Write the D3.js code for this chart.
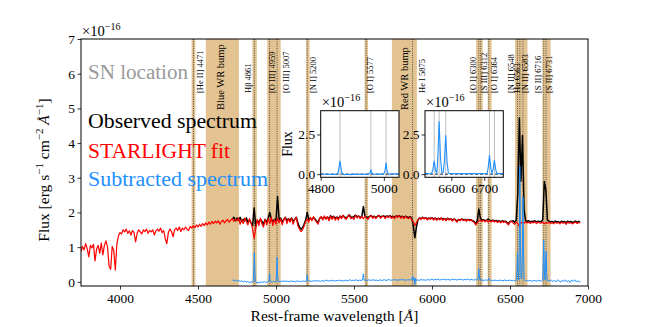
<!DOCTYPE html>
<html><head><meta charset="utf-8">
<script src="https://cdn.jsdelivr.net/npm/d3@7"></script>
<style>
body{margin:0;background:#fff;}
svg{display:block;}
text{font-family:"Liberation Serif","Times New Roman",serif;}
</style>
</head><body>
<svg id="c" width="654" height="327"></svg>
<script>
// ---------------- DATA ----------------
const waveStart = 3750, waveStep = 10;       // STARLIGHT fit sampling grid (Å)
const fitFlux = [
0.88,1.02,0.92,1.10,0.95,0.72,1.05,0.98,1.08,0.60,
0.95,1.05,0.82,1.12,0.78,1.05,1.18,1.00,0.45,0.36,
1.02,0.90,0.34,1.10,1.32,1.42,1.38,1.50,1.44,1.52,
1.40,1.47,1.35,1.48,1.42,1.15,1.40,1.50,1.44,1.38,
1.50,1.45,1.52,1.40,1.48,1.44,1.50,1.35,1.47,1.52,
1.46,1.55,1.42,1.48,1.25,1.10,1.42,1.52,1.45,1.30,
1.50,1.55,1.48,1.58,1.45,1.55,1.50,1.58,1.52,1.48,
1.60,1.55,1.62,1.56,1.64,1.58,1.66,1.60,1.68,1.62,
1.70,1.64,1.72,1.66,1.74,1.68,1.75,1.70,1.76,1.66,
1.74,1.78,1.70,1.76,1.80,1.72,1.78,1.82,1.74,1.80,
1.76,1.84,1.66,1.80,1.68,1.84,1.74,1.64,1.82,1.70,
1.52,1.25,1.55,1.80,1.62,1.84,1.66,1.58,1.80,1.64,
1.82,1.68,1.86,1.62,1.80,1.66,1.84,1.70,1.82,1.64,
1.80,1.86,1.68,1.82,1.72,1.84,1.66,1.80,1.86,1.62,
1.52,1.45,1.50,1.60,1.74,1.82,1.72,1.86,1.76,1.88,
1.78,1.72,1.66,1.84,1.88,1.78,1.90,1.80,1.88,1.76,
1.90,1.80,1.88,1.78,1.86,1.78,1.90,1.82,1.92,1.84,
1.80,1.88,1.92,1.82,1.86,1.80,1.92,1.84,1.90,1.82,
1.88,1.82,1.90,1.84,1.80,1.88,1.91,1.83,1.89,1.82,
1.88,1.92,1.83,1.88,1.90,1.82,1.89,1.85,1.91,1.83,
1.88,1.82,1.90,1.85,1.91,1.83,1.88,1.82,1.89,1.84,
1.82,1.87,1.80,1.74,1.62,1.70,1.80,1.84,1.80,1.86,
1.81,1.85,1.78,1.84,1.80,1.85,1.78,1.84,1.77,1.83,
1.79,1.84,1.77,1.82,1.76,1.83,1.78,1.82,1.75,1.81,
1.78,1.72,1.80,1.76,1.81,1.77,1.80,1.74,1.80,1.76,
1.79,1.74,1.72,1.64,1.70,1.76,1.78,1.74,1.78,1.73,
1.77,1.72,1.76,1.73,1.77,1.72,1.76,1.71,1.75,1.70,
1.75,1.71,1.74,1.69,1.64,1.73,1.74,1.70,1.66,1.72,
1.68,1.60,1.70,1.72,1.69,1.73,1.70,1.72,1.68,1.72,
1.70,1.73,1.68,1.72,1.70,1.69,1.72,1.67,1.71,1.69,
1.72,1.68,1.71,1.67,1.72,1.69,1.71,1.67,1.72,1.69,
1.71,1.66,1.72,1.69,1.71,1.67,1.70,1.72,1.68,1.71,
1.70];

const obsStart = 4720;                       // observed spectrum grid start (Å), same step
const obsFlux = [
1.80,1.86,1.76,1.84,1.78,1.86,1.74,1.80,1.76,1.84,
1.72,1.78,1.70,1.62,2.13,1.60,1.76,1.72,1.80,1.74,
1.66,1.80,1.72,1.84,2.00,1.82,1.70,1.80,1.76,2.46,
1.78,1.84,1.72,1.80,1.86,1.76,1.82,1.78,1.84,1.74,
1.80,1.86,1.70,1.58,1.52,1.56,1.66,1.78,2.00,1.80,
1.83,1.79,1.85,1.81,1.75,1.71,1.83,1.87,1.81,1.87,
1.83,1.87,1.79,1.91,1.85,1.89,1.83,1.87,1.83,1.89,
1.85,1.91,1.87,1.83,1.89,1.93,1.87,1.85,1.89,1.92,
1.87,1.90,1.85,1.89,2.17,1.89,1.87,1.85,1.89,1.91,
1.87,1.89,1.86,1.89,1.91,1.87,1.89,1.90,1.87,1.90,
1.88,1.91,1.87,1.89,1.86,1.90,1.88,1.91,1.87,1.89,
1.86,1.89,1.87,1.85,1.88,1.83,1.62,1.27,1.58,1.79,
1.84,1.82,1.86,1.83,1.85,1.81,1.84,1.82,1.85,1.81,
1.84,1.80,1.83,1.81,1.84,1.80,1.82,1.79,1.83,1.80,
1.82,1.78,1.81,1.79,1.74,1.80,1.78,1.81,1.79,1.80,
1.77,1.80,1.78,1.79,1.76,1.74,1.68,1.76,2.10,1.84,
1.77,1.79,1.76,1.78,1.81,1.77,1.76,1.78,1.75,1.77,
1.74,1.76,1.73,1.76,1.74,1.75,1.72,1.67,1.74,1.75,
1.76,1.72,1.78,2.55,4.72,2.90,4.22,2.10,1.76,1.74,
1.76,1.73,1.75,1.74,1.76,1.73,1.75,1.74,1.73,1.80,
2.89,2.65,1.78,1.75,1.73,1.74,1.71,1.75,1.72,1.74,
1.70,1.75,1.72,1.74,1.70,1.75,1.72,1.74,1.71,1.73,
1.75,1.71,1.74,1.72];

// subtracted (emission) spectrum: [wavelength Å, flux]
const subtracted = [
[4720,.06],[4730,.03],[4740,.05],[4750,.02],[4760,.04],[4770,.01],[4780,.03],[4790,0],[4800,.02],[4810,-.01],
[4820,.01],[4830,-.02],[4840,0],[4849,-.02],[4854,.03],[4857,.30],[4861,.84],[4865,.28],[4868,.02],[4875,-.03],
[4885,-.01],[4895,-.03],[4905,0],[4915,-.02],[4925,.01],[4935,-.02],[4945,0],[4952,.01],[4956,.08],[4959,.25],
[4962,.07],[4966,0],[4975,-.01],[4985,.01],[4995,0],[5000,.02],[5004,.25],[5007,.71],[5010,.22],[5014,.01],
[5025,0],[5035,.02],[5045,.01],[5055,.03],[5065,.01],[5075,.02],[5085,0],[5095,.03],[5105,.01],[5115,.02],
[5125,0],[5135,.03],[5145,.01],[5155,.02],[5165,0],[5175,.03],[5185,.01],[5193,.02],[5197,.06],[5200,.20],
[5203,.05],[5207,.02],[5215,.03],[5225,.01],[5235,.03],[5245,.02],[5255,.04],[5265,.02],[5275,.03],[5285,.01],
[5295,.04],[5305,.02],[5315,.03],[5325,.05],[5335,.02],[5345,.04],[5355,.03],[5365,.05],[5375,.02],[5385,.04],
[5395,.03],[5405,.05],[5415,.03],[5425,.04],[5435,.02],[5445,.05],[5455,.03],[5465,.04],[5475,.06],[5485,.03],
[5495,.05],[5505,.04],[5515,.06],[5525,.03],[5535,.05],[5545,.04],[5553,.05],[5557,.10],[5560,.23],[5563,.09],
[5567,.04],[5575,.05],[5585,.04],[5595,.06],[5605,.04],[5615,.05],[5625,.06],[5635,.04],[5645,.05],[5655,.03],
[5665,.06],[5675,.04],[5685,.05],[5695,.06],[5705,.04],[5715,.05],[5725,.07],[5735,.04],[5745,.06],[5755,.05],
[5765,.07],[5775,.04],[5785,.06],[5795,.05],[5805,.07],[5815,.05],[5825,.06],[5835,.04],[5845,.07],[5855,.05],
[5865,.06],[5872,.08],[5876,.17],[5880,.04],[5885,.12],[5890,-.08],[5895,.10],[5900,.03],[5910,.06],[5920,.04],
[5930,.07],[5940,.05],[5950,.06],[5960,.04],[5970,.07],[5980,.05],[5990,.06],[6000,.08],[6010,.05],[6020,.07],
[6030,.06],[6040,.08],[6050,.05],[6060,.07],[6070,.06],[6080,.08],[6090,.05],[6100,.07],[6110,.06],[6120,.05],
[6130,.08],[6140,.06],[6150,.07],[6160,.05],[6170,.08],[6180,.06],[6190,.07],[6200,.05],[6210,.07],[6220,.06],
[6230,.08],[6240,.05],[6250,.07],[6260,.06],[6270,.05],[6280,.07],[6288,.05],[6293,.06],[6296,.15],[6300,.38],
[6304,.14],[6308,.05],[6312,.08],[6316,.04],[6325,.05],[6335,.04],[6345,.06],[6355,.04],[6360,.06],[6364,.11],
[6368,.05],[6375,.04],[6385,.05],[6395,.03],[6405,.05],[6415,.04],[6425,.03],[6435,.05],[6445,.04],[6455,.03],
[6465,.05],[6475,.04],[6485,.03],[6495,.05],[6505,.04],[6515,.03],[6525,.05],[6533,.02],[6540,.04],[6544,.28],
[6548,.84],[6552,.26],[6556,.05],[6559,1.10],[6563,3.33],[6567,1.05],[6571,.08],[6575,.10],[6579,.80],[6583,2.45],
[6587,.78],[6591,.06],[6597,.03],[6605,.04],[6615,.02],[6625,.04],[6635,.03],[6645,.02],[6655,.04],[6665,.03],
[6675,.02],[6685,.04],[6695,.03],[6703,.02],[6709,.05],[6712,.40],[6716,1.20],[6720,.38],[6723,.05],[6727,.30],
[6731,.88],[6735,.27],[6739,.03],[6745,.04],[6755,.02],[6765,.05],[6775,.01],[6785,.04],[6795,0],[6805,.06],
[6815,.02],[6825,-.01],[6835,.05],[6845,.01],[6855,.06],[6865,0],[6875,.04],[6885,-.02],[6895,.05],[6905,.01],
[6915,.06],[6925,0],[6935,.03],[6945,-.01],[6952,.02]];

// masked windows [start, end] in Å
const bandRanges = [[4459,4483],[4550,4762],[4849,4877],[4944,5030],[5193,5215],[5568,5590],
  [5743,5903],[6283,6325],[6357,6382],[6532,6612],[6707,6760]];
const lineWaves  = [4471,4861,4959,5007,5200,5577,5875,6300,6312,6364,6548,6563,6583,6716,6731];
const lineLabels = ["[He II] 4471","Hβ 4861","[O III] 4959","[O III] 5007","[N I] 5200","[O I] 5577",
  "He I 5875","[O I] 6300","[S III] 6312","[O I] 6364","[N II] 6548","Hα 6563","[N II] 6583",
  "[S II] 6716","[S II] 6731"];
const bumpLabels = ["Blue WR bump","Red WR bump"];
const bumpWaves  = [4641, 5824];
const xTicks = [4000,4500,5000,5500,6000,6500,7000];
const yTicks = [0,1,2,3,4,5,6,7];
const inset1Lines = [4861,4959,5007], inset2Lines = [6548,6563,6583,6716,6731];
const inset1Ticks = [4800,5000], inset2Ticks = [6600,6700];
const insetYTicks = [0,2.5];
const legendTexts = ["SN location","Observed spectrum","STARLIGHT fit","Subtracted spectrum"];

// ---------------- STYLE / LAYOUT ----------------
const labelShift = [6.5,-6.3,2.4,8.5,6.3,4.5,9.5,-5.3,3.8,5.3,-6.5,-2.4,2.5,-5.7,2.5]; // px
const legendColors = ["#9a9a9a","#000","#ff0000","#1e90ff"];
const legendY = [79,128,158,186], legendW = [100,169,142,180];
const bandColor = "#e2c391";
const M = {l:81, r:588, t:39, b:286};
const svg = d3.select("#c");
const x = d3.scaleLinear().domain([3750,7000]).range([M.l,M.r]);
const y = d3.scaleLinear().domain([-0.12,7]).range([M.b,M.t]);

const defs = svg.append("defs");
defs.append("clipPath").attr("id","mclip").append("rect")
  .attr("x",M.l).attr("y",M.t).attr("width",M.r-M.l).attr("height",M.b-M.t);

const gm = svg.append("g").attr("clip-path","url(#mclip)");
gm.selectAll("rect.band").data(bandRanges).join("rect").attr("class","band")
  .attr("x",d=>x(d[0])).attr("width",d=>x(d[1])-x(d[0]))
  .attr("y",M.t).attr("height",M.b-M.t).attr("fill",bandColor);
gm.selectAll("line.ln").data(lineWaves).join("line").attr("class","ln")
  .attr("x1",d=>x(d)).attr("x2",d=>x(d)).attr("y1",M.t).attr("y2",M.b)
  .attr("stroke","#333").attr("stroke-width",0.8).attr("stroke-dasharray","1,1.3");

const fitData = fitFlux.map((f,i)=>[waveStart+i*waveStep,f]);
const obsData = obsFlux.map((f,i)=>[obsStart+i*waveStep,f]);
const line = d3.line().x(d=>x(d[0])).y(d=>y(d[1]));
gm.append("path").datum(obsData).attr("d",line).attr("fill","none").attr("stroke","#000").attr("stroke-width",1.5).attr("stroke-linejoin","round");
gm.append("path").datum(fitData).attr("d",line).attr("fill","none").attr("stroke","#ff0000").attr("stroke-width",1.2).attr("stroke-linejoin","round");
gm.append("path").datum(subtracted).attr("d",line).attr("fill","none").attr("stroke","#1e90ff").attr("stroke-width",1.0).attr("stroke-linejoin","round");

svg.append("rect").attr("x",M.l).attr("y",M.t).attr("width",M.r-M.l).attr("height",M.b-M.t)
  .attr("fill","none").attr("stroke","#000").attr("stroke-width",1);

const xa = svg.append("g").attr("transform",`translate(0,${M.b})`)
  .call(d3.axisBottom(x).tickValues(xTicks).tickSize(3.5).tickPadding(4).tickFormat(d3.format("d")));
xa.select(".domain").remove();
const ya = svg.append("g").attr("transform",`translate(${M.l},0)`)
  .call(d3.axisLeft(y).tickValues(yTicks).tickSize(3.5).tickPadding(2.5).tickFormat(d3.format("d")));
ya.select(".domain").remove();
svg.selectAll(".tick text").attr("font-family","Liberation Serif, serif").attr("font-size",13.5).attr("fill","#000");
svg.selectAll(".tick line").attr("stroke","#000").attr("stroke-width",0.8);

// exponent label
function expLabel(px, py, fs){
  const t = svg.append("text").attr("x",px).attr("y",py).attr("font-size",fs);
  t.append("tspan").text("×10");
  t.append("tspan").attr("dy",-fs*0.42).attr("font-size",fs*0.7).text("−16");
}
expLabel(82,36,14.5);

// axis labels
const xl = svg.append("text").attr("x",(M.l+M.r)/2).attr("y",321).attr("text-anchor","middle").attr("font-size",15.5);
xl.append("tspan").text("Rest-frame wavelength [");
xl.append("tspan").attr("font-style","italic").text("Å");
xl.append("tspan").text("]");
const yl = svg.append("text").attr("transform","translate(49,170) rotate(-90)").attr("text-anchor","middle").attr("font-size",15.5);
yl.append("tspan").text("Flux [erg s");
yl.append("tspan").attr("dy",-6).attr("font-size",11).text("−1");
yl.append("tspan").attr("dy",6).text(" cm");
yl.append("tspan").attr("dy",-6).attr("font-size",11).text("−2");
yl.append("tspan").attr("dy",6).text(" ");
yl.append("tspan").attr("font-style","italic").text("Å");
yl.append("tspan").attr("dy",-6).attr("font-size",11).text("−1");
yl.append("tspan").attr("dy",6).text("]");

// line labels
svg.selectAll("text.ll").data(lineWaves).join("text").attr("class","ll")
  .attr("transform",(d,i)=>`translate(${x(d)+labelShift[i]},93) rotate(-90)`)
  .attr("dy","0.35em").attr("font-size",8.5).text((d,i)=>lineLabels[i]);
svg.selectAll("text.bl").data(bumpWaves).join("text").attr("class","bl")
  .attr("transform",d=>`translate(${x(d)},110) rotate(-90)`)
  .attr("dy","0.35em").attr("font-size",10.5).text((d,i)=>bumpLabels[i]);

// legend texts
svg.selectAll("text.lg").data(legendTexts).join("text").attr("class","lg")
  .attr("x",88).attr("y",(d,i)=>legendY[i]).attr("font-size",20)
  .attr("textLength",(d,i)=>legendW[i]).attr("lengthAdjust","spacingAndGlyphs")
  .attr("fill",(d,i)=>legendColors[i]).text(d=>d);

// insets
function inset(id, left, right, dom, lines, ticks, withYLabel){
  const top = 110.7, bot = 177.3;
  const ix = d3.scaleLinear().domain(dom).range([left,right]);
  const iy = d3.scaleLinear().domain([-0.2,4.0]).range([bot,top]);
  const g = svg.append("g");
  g.append("rect").attr("x",left).attr("y",top).attr("width",right-left).attr("height",bot-top).attr("fill","#fff");
  defs.append("clipPath").attr("id",id).append("rect").attr("x",left).attr("y",top).attr("width",right-left).attr("height",bot-top);
  const gc = g.append("g").attr("clip-path",`url(#${id})`);
  gc.selectAll("line").data(lines).join("line").attr("x1",d=>ix(d)).attr("x2",d=>ix(d))
    .attr("y1",top).attr("y2",bot).attr("stroke","#bdbdbd").attr("stroke-width",1);
  gc.append("line").attr("x1",left).attr("x2",right).attr("y1",iy(0)).attr("y2",iy(0))
    .attr("stroke","#1f2340").attr("stroke-width",1).attr("stroke-dasharray","3,2");
  const il = d3.line().x(d=>ix(d[0])).y(d=>iy(d[1]));
  gc.append("path").datum(subtracted).attr("d",il).attr("fill","none").attr("stroke","#1e90ff").attr("stroke-width",1.1);
  g.append("rect").attr("x",left).attr("y",top).attr("width",right-left).attr("height",bot-top)
    .attr("fill","none").attr("stroke","#000").attr("stroke-width",1);
  const xa = g.append("g").attr("transform",`translate(0,${bot})`)
    .call(d3.axisBottom(ix).tickValues(ticks).tickSize(3.5).tickPadding(3).tickFormat(d3.format("d")));
  xa.select(".domain").remove();
  const ya = g.append("g").attr("transform",`translate(${left},0)`)
    .call(d3.axisLeft(iy).tickValues(insetYTicks).tickSize(3.5).tickPadding(2).tickFormat(d3.format(".1f")));
  ya.select(".domain").remove();
  g.selectAll(".tick text").attr("font-family","Liberation Serif, serif").attr("font-size",13.5).attr("fill","#000");
  g.selectAll(".tick line").attr("stroke","#000").attr("stroke-width",0.8);
  expLabel(left+1,107,14.5);
  if(withYLabel){
    g.append("text").attr("transform",`translate(292,${(top+bot)/2}) rotate(-90)`)
      .attr("text-anchor","middle").attr("font-size",14).text("Flux");
  }
}
inset("ic1",320.7,399,[4800,5048],inset1Lines,inset1Ticks,true);
inset("ic2",425,503.3,[6520,6758],inset2Lines,inset2Ticks,false);
</script>
</body></html>
